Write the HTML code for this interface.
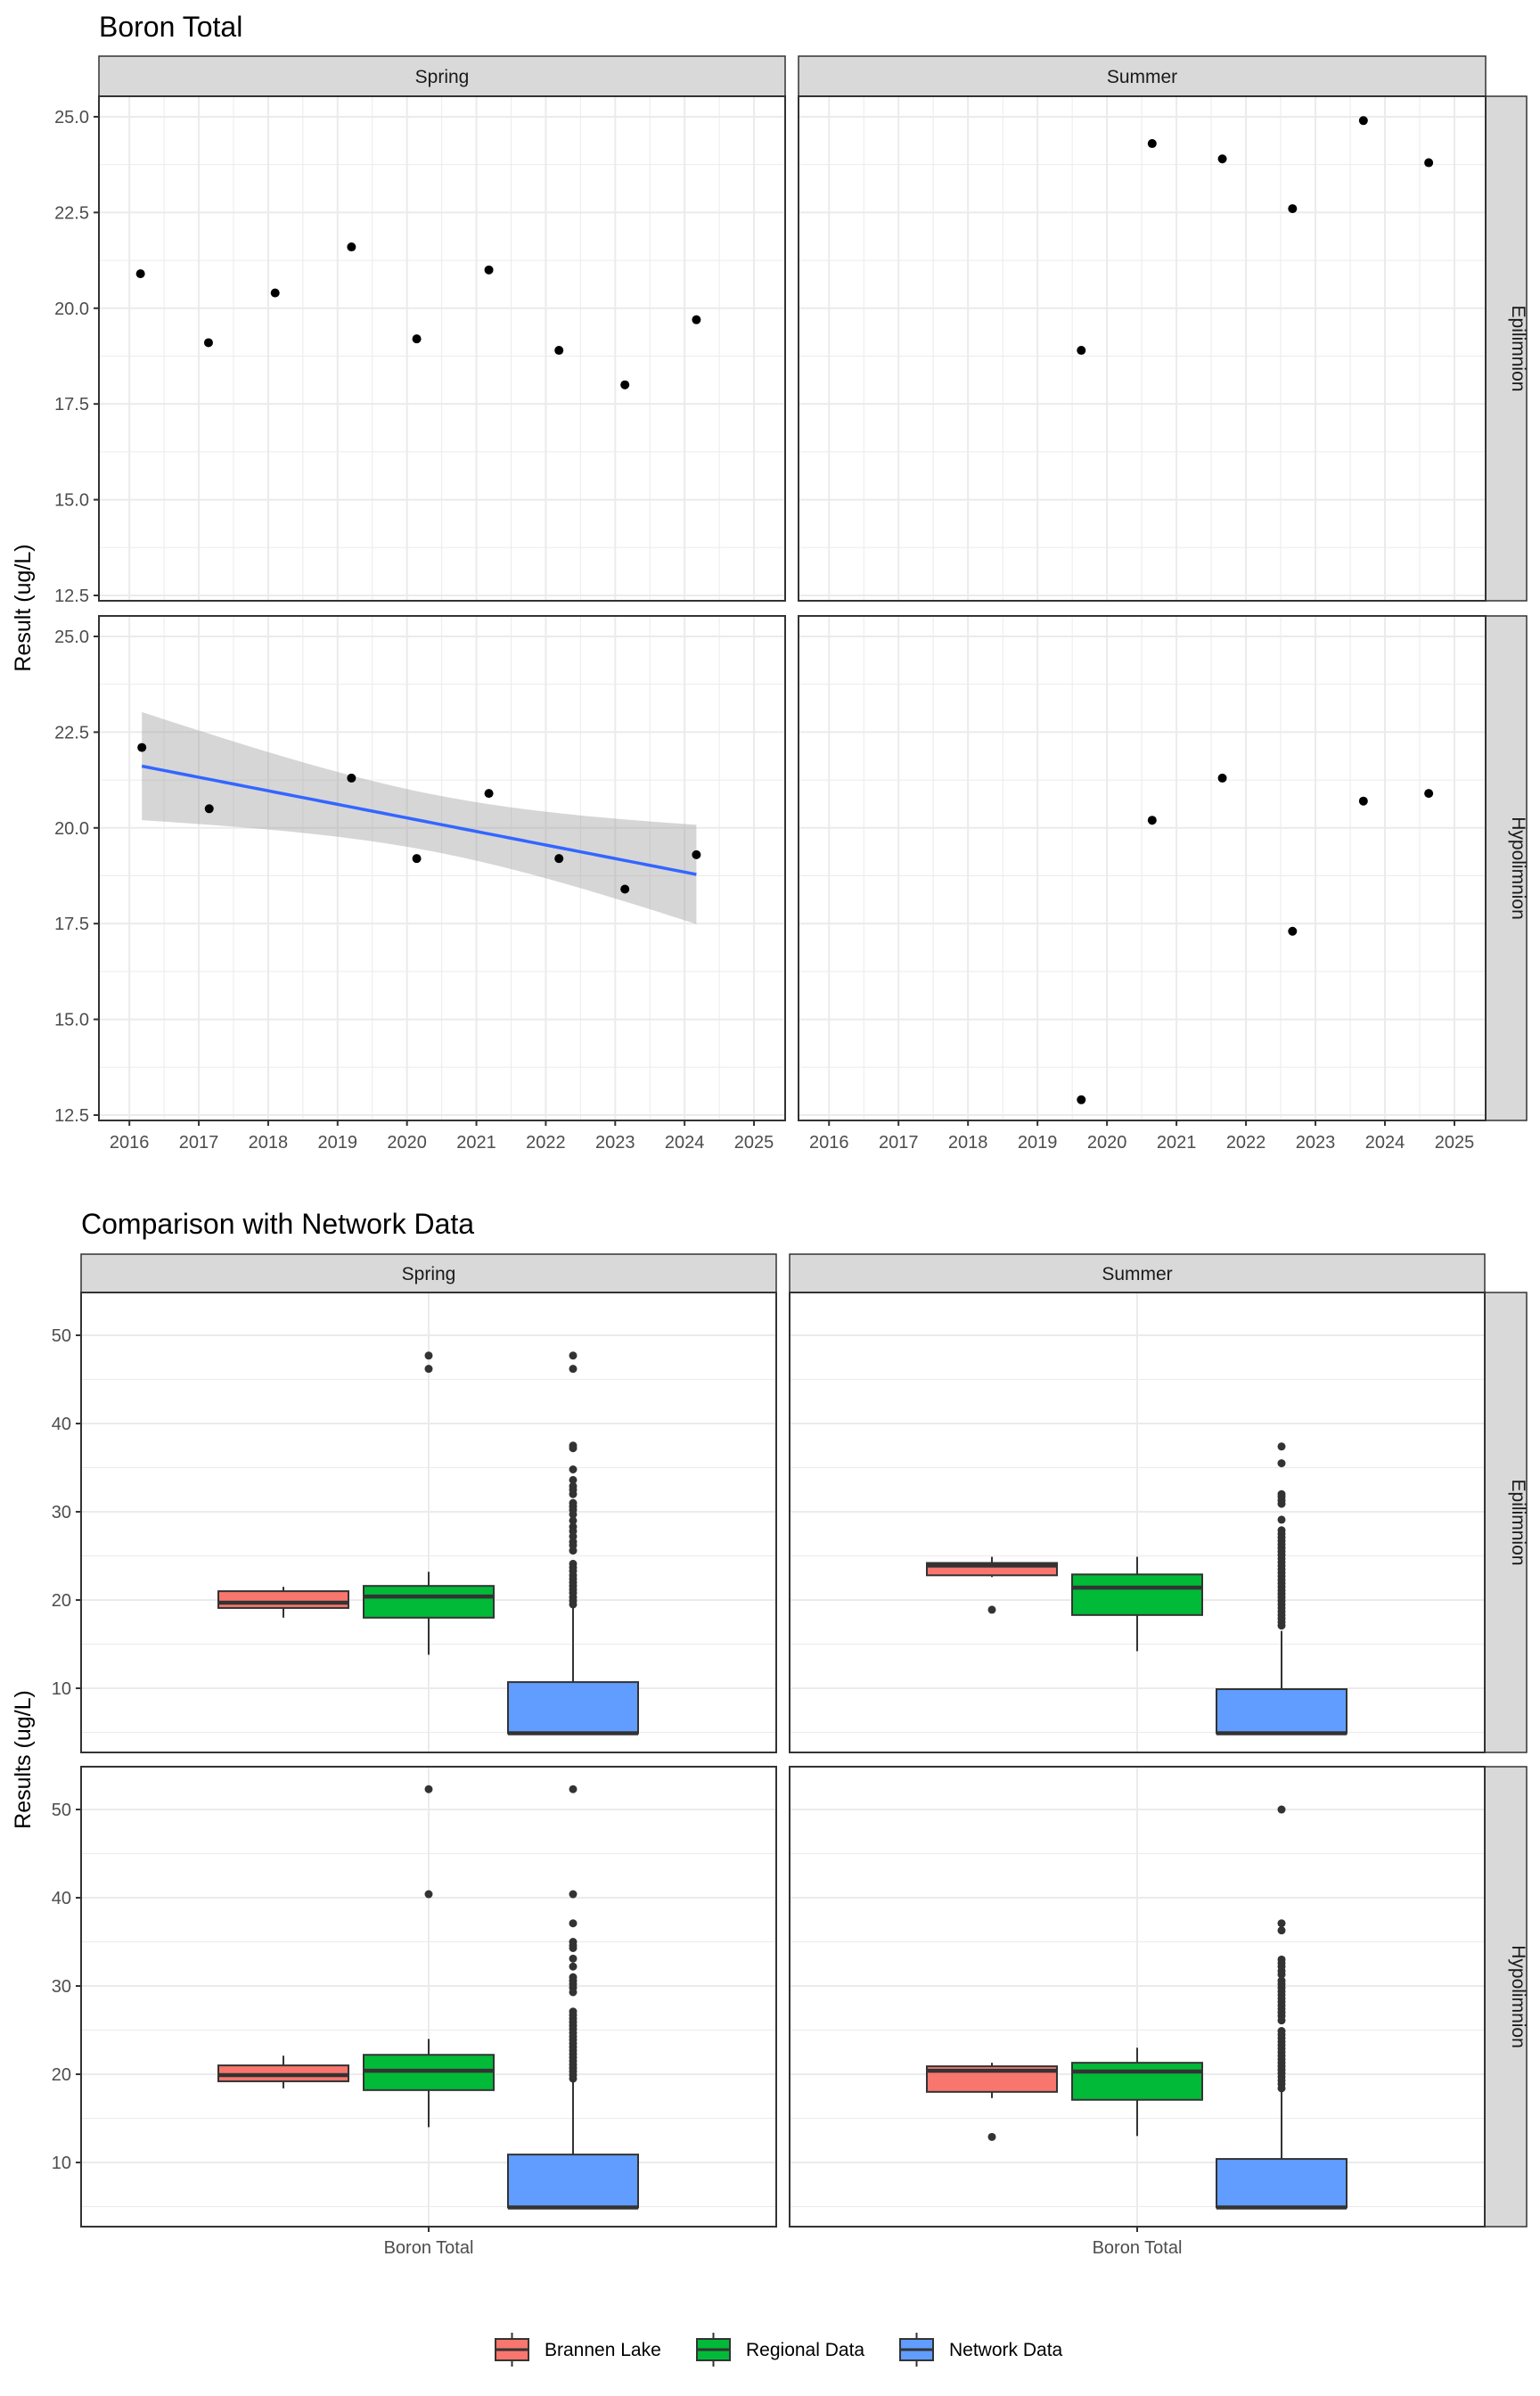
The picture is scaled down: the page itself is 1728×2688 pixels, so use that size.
<!DOCTYPE html>
<html><head><meta charset="utf-8"><title>Boron Total</title>
<style>html,body{margin:0;padding:0;background:#fff}svg{display:block;font-family:"Liberation Sans",Arial,sans-serif}</style>
</head><body>
<svg id="chart" xmlns="http://www.w3.org/2000/svg" width="1728" height="2688" viewBox="0 0 1728 2688"></svg>
<script>
// ---------- Top chart data (Boron Total scatter) ----------
const yearTicks = [2016,2017,2018,2019,2020,2021,2022,2023,2024,2025];
const topYTicks = [12.5,15.0,17.5,20.0,22.5,25.0];
const seasons = ["Spring","Summer"];
const depths = ["Epilimnion","Hypolimnion"];
const springEpiX = [2016.16,2017.14,2018.1,2019.2,2020.14,2021.18,2022.19,2023.14,2024.17];
const springEpiY = [20.9,19.1,20.4,21.6,19.2,21.0,18.9,18.0,19.7];
const summerEpiX = [2019.63,2020.65,2021.66,2022.67,2023.69,2024.63];
const summerEpiY = [18.9,24.3,23.9,22.6,24.9,23.8];
const springHypX = [2016.18,2017.15,2019.2,2020.14,2021.18,2022.19,2023.14,2024.17];
const springHypY = [22.1,20.5,21.3,19.2,20.9,19.2,18.4,19.3];
const summerHypX = [2019.63,2020.65,2021.66,2022.67,2023.69,2024.63];
const summerHypY = [12.9,20.2,21.3,17.3,20.7,20.9];

// ---------- Bottom chart data (boxplots) ----------
const groups = ["Brannen Lake","Regional Data","Network Data"];
const boxYTicks = [10,20,30,40,50];
// [lower whisker, q1, median, q3, upper whisker]
const springEpiBoxes = [[18.0,19.1,19.7,21.0,21.5],[13.8,18.0,20.4,21.6,23.2],[4.9,4.9,4.9,10.7,19.4]];
const summerEpiBoxes = [[22.6,22.8,23.9,24.2,24.9],[14.2,18.3,21.4,22.9,24.9],[4.9,4.9,4.9,9.9,16.5]];
const springHypBoxes = [[18.4,19.2,19.9,21.0,22.1],[14.0,18.2,20.4,22.2,24.0],[4.9,4.9,4.9,10.9,19.4]];
const summerHypBoxes = [[17.3,18.0,20.4,20.9,21.3],[13.0,17.1,20.3,21.3,23.0],[4.9,4.9,4.9,10.4,18.2]];
const springEpiOut = [[],[47.7,46.2],[47.7,46.2,37.5,37.2,34.8,33.6,32.9,32.5,32.0,31.0,30.6,30.2,29.7,29.0,28.3,27.8,27.2,26.6,26.2,25.6,24.1,23.7,23.3,22.8,22.4,22.0,21.6,21.2,20.8,20.3,19.9,19.5]];
const summerEpiOut = [[18.9],[],[37.4,35.5,32.0,31.7,31.3,30.9,29.1,27.9,27.5,27.1,26.7,26.3,25.9,25.5,25.1,24.7,24.3,23.9,23.5,23.1,22.7,22.3,21.9,21.5,21.1,20.7,20.3,19.9,19.5,19.1,18.7,18.3,17.9,17.5,17.1]];
const springHypOut = [[],[52.3,40.4],[52.3,40.4,37.1,35.0,34.6,34.3,33.1,32.2,31.0,30.6,30.2,29.8,29.3,27.1,26.7,26.3,25.9,25.5,25.1,24.7,24.3,23.9,23.5,23.1,22.7,22.3,21.9,21.5,21.1,20.7,20.3,19.9,19.5]];
const summerHypOut = [[12.9],[],[50.0,37.1,36.3,33.0,32.6,32.2,31.7,31.3,30.6,30.2,29.8,29.4,29.0,28.6,28.2,27.8,27.4,27.0,26.6,26.1,24.9,24.5,24.1,23.7,23.3,22.9,22.5,22.1,21.7,21.3,20.9,20.5,20.1,19.7,19.3,18.9,18.4]];
const groupColors = ["#F8766D","#00BA38","#619CFF"];

const NS="http://www.w3.org/2000/svg";
const svg=document.getElementById("chart");
function mk(tag, attrs, parent){const e=document.createElementNS(NS,tag);for(const k in attrs)e.setAttribute(k,attrs[k]);(parent||svg).appendChild(e);return e;}
function txt(s, attrs){const e=mk("text",attrs);e.textContent=s;return e;}

// ================= TOP CHART =================
const tCols=[{x0:111,x1:881},{x0:896,x1:1667}];
const tRows=[{y0:108,y1:674},{y0:691,y1:1257}];
const tXDom=[2015.561,2025.449], tYDom=[12.36,25.535];
function tx(c,v){return c.x0+(v-tXDom[0])/(tXDom[1]-tXDom[0])*(c.x1-c.x0);}
function ty(r,v){return r.y1-(v-tYDom[0])/(tYDom[1]-tYDom[0])*(r.y1-r.y0);}

let t=txt("Boron Total",{x:111,y:41,"font-size":32,fill:"#000"});



const topSeries=[[ [springEpiX,springEpiY],[summerEpiX,summerEpiY] ],[ [springHypX,springHypY],[summerHypX,summerHypY] ]];

for(let ci=0;ci<2;ci++){
  const c=tCols[ci];
  let s=mk("rect",{x:c.x0,y:63,width:c.x1-c.x0,height:45,fill:"#D9D9D9",stroke:"#333",  "stroke-width":1.5});
  
  
  let st=txt(seasons[ci],{x:(c.x0+c.x1)/2,y:93,"font-size":21,fill:"#1A1A1A","text-anchor":"middle"});
  
  
}
for(let ri=0;ri<2;ri++){
  const r=tRows[ri];
  let s=mk("rect",{x:1667,y:r.y0,width:46,height:r.y1-r.y0,fill:"#D9D9D9",stroke:"#333","stroke-width":1.5});
  
  
  const cy=(r.y0+r.y1)/2;
  let st=txt(depths[ri],{x:1690,y:cy,"font-size":21,fill:"#1A1A1A","text-anchor":"middle",transform:"rotate(90 1690 "+cy+")","dy":"-7"});
  
  
}

for(let ri=0;ri<2;ri++){
  const r=tRows[ri];
  for(let ci=0;ci<2;ci++){
    const c=tCols[ci];
    let bg=mk("rect",{x:c.x0,y:r.y0,width:c.x1-c.x0,height:r.y1-r.y0,fill:"#fff"});
    
    
    // minor grid
    for(let i=0;i<yearTicks.length;i++){const v=yearTicks[i]+0.5;if(v>tXDom[0]&&v<tXDom[1]){let g=mk("line",{x1:tx(c,v),x2:tx(c,v),y1:r.y0,y2:r.y1,stroke:"#EBEBEB","stroke-width":1});}}
    for(let i=0;i<topYTicks.length;i++){const v=topYTicks[i]+1.25;if(v<tYDom[1]){let g=mk("line",{x1:c.x0,x2:c.x1,y1:ty(r,v),y2:ty(r,v),stroke:"#EBEBEB","stroke-width":1});}}
    for(const v of yearTicks){let g=mk("line",{x1:tx(c,v),x2:tx(c,v),y1:r.y0,y2:r.y1,stroke:"#EBEBEB","stroke-width":2});}
    for(const v of topYTicks){let g=mk("line",{x1:c.x0,x2:c.x1,y1:ty(r,v),y2:ty(r,v),stroke:"#EBEBEB","stroke-width":2});}
    // regression for spring hypolimnion
    if(ri===1&&ci===0){
      const xs=springHypX, ys=springHypY, n=xs.length;
      const mx=xs.reduce((a,b)=>a+b,0)/n, my=ys.reduce((a,b)=>a+b,0)/n;
      let sxx=0,sxy=0;for(let i=0;i<n;i++){sxx+=(xs[i]-mx)**2;sxy+=(xs[i]-mx)*(ys[i]-my);}
      const b=sxy/sxx,a=my-b*mx;
      let sse=0;for(let i=0;i<n;i++){sse+=(ys[i]-a-b*xs[i])**2;}
      const se=Math.sqrt(sse/(n-2)), tq=2.4469;
      const xmin=Math.min(...xs), xmax=Math.max(...xs);
      const up=[],lo=[],ln=[];
      for(let k=0;k<=80;k++){const x=xmin+(xmax-xmin)*k/80;const f=a+b*x;const h=tq*se*Math.sqrt(1/n+(x-mx)**2/sxx);
        up.push(tx(c,x)+","+ty(r,f+h));lo.unshift(tx(c,x)+","+ty(r,f-h));ln.push(tx(c,x)+","+ty(r,f));}
      let rib=mk("polygon",{points:up.concat(lo).join(" "),fill:"#999999","fill-opacity":0.4});
      
      
      let tl=mk("polyline",{points:ln.join(" "),fill:"none",stroke:"#3366FF","stroke-width":3.5});
      
      
    }
    const ser=topSeries[ri][ci];
    for(let i=0;i<ser[0].length;i++){
      let p=mk("circle",{cx:tx(c,ser[0][i]),cy:ty(r,ser[1][i]),r:5,fill:"#000"});
      
      
    }
    let bd=mk("rect",{x:c.x0,y:r.y0,width:c.x1-c.x0,height:r.y1-r.y0,fill:"none",stroke:"#333","stroke-width":2});
    
    
  }
  // y ticks
  for(const v of topYTicks){
    const y=ty(r,v);
    let tk=mk("line",{x1:105,x2:111,y1:y,y2:y,stroke:"#333","stroke-width":2});
    
    
    let tl=txt(v.toFixed(1),{x:100,y:y+7,"font-size":20,fill:"#4D4D4D","text-anchor":"end"});
    
    
  }
}
for(let ci=0;ci<2;ci++){const c=tCols[ci];
  for(const v of yearTicks){const x=tx(c,v);
    let tk=mk("line",{x1:x,x2:x,y1:1257,y2:1263,stroke:"#333","stroke-width":2});
    
    
    let tl=txt(String(v),{x:x,y:1288,"font-size":20,fill:"#4D4D4D","text-anchor":"middle"});
    
    
  }}
let yt=txt("Result (ug/L)",{x:34,y:682,"font-size":25,fill:"#000","text-anchor":"middle",transform:"rotate(-90 34 682)"});



// ================= BOTTOM CHART =================
const bCols=[{x0:91,x1:871},{x0:886,x1:1666}];
const bRows=[{y0:1450,y1:1966},{y0:1982,y1:2498}];
const bYDom=[2.73,54.85];
const grpOffset=[-163,0,162], halfW=73;
function by(r,v){return r.y1-(v-bYDom[0])/(bYDom[1]-bYDom[0])*(r.y1-r.y0);}
const boxData=[[springEpiBoxes,summerEpiBoxes],[springHypBoxes,summerHypBoxes]];
const outData=[[springEpiOut,summerEpiOut],[springHypOut,summerHypOut]];

let bt=txt("Comparison with Network Data",{x:91,y:1384,"font-size":32,fill:"#000"});



for(let ci=0;ci<2;ci++){const c=bCols[ci];
  let s=mk("rect",{x:c.x0,y:1407,width:c.x1-c.x0,height:43,fill:"#D9D9D9",stroke:"#333","stroke-width":1.5});
  
  
  let st=txt(seasons[ci],{x:(c.x0+c.x1)/2,y:1436,"font-size":21,fill:"#1A1A1A","text-anchor":"middle"});
  
  
}
for(let ri=0;ri<2;ri++){const r=bRows[ri];
  let s=mk("rect",{x:1666,y:r.y0,width:47,height:r.y1-r.y0,fill:"#D9D9D9",stroke:"#333","stroke-width":1.5});
  
  
  const cy=(r.y0+r.y1)/2;
  let st=txt(depths[ri],{x:1690,y:cy,"font-size":21,fill:"#1A1A1A","text-anchor":"middle",transform:"rotate(90 1690 "+cy+")","dy":"-7"});
  
  
}
for(let ri=0;ri<2;ri++){const r=bRows[ri];
  for(let ci=0;ci<2;ci++){const c=bCols[ci];const cx=(c.x0+c.x1)/2;
    let bg=mk("rect",{x:c.x0,y:r.y0,width:c.x1-c.x0,height:r.y1-r.y0,fill:"#fff"});
    
    
    for(const v of boxYTicks){const m=v-5;if(m>bYDom[0]){let g=mk("line",{x1:c.x0,x2:c.x1,y1:by(r,m),y2:by(r,m),stroke:"#EBEBEB","stroke-width":1});}}
    let g2=mk("line",{x1:c.x0,x2:c.x1,y1:by(r,45),y2:by(r,45),stroke:"#EBEBEB","stroke-width":1});
    
    
    for(const v of boxYTicks){let g=mk("line",{x1:c.x0,x2:c.x1,y1:by(r,v),y2:by(r,v),stroke:"#EBEBEB","stroke-width":2});}
    let gx=mk("line",{x1:cx,x2:cx,y1:r.y0,y2:r.y1,stroke:"#EBEBEB","stroke-width":2});
    
    
    const bx=boxData[ri][ci], ou=outData[ri][ci];
    for(let gi=0;gi<3;gi++){const gcx=cx+grpOffset[gi];const d=bx[gi];
      let w1=mk("line",{x1:gcx,x2:gcx,y1:by(r,d[4]),y2:by(r,d[3]),stroke:"#333","stroke-width":2});
      
      
      let w2=mk("line",{x1:gcx,x2:gcx,y1:by(r,d[1]),y2:by(r,d[0]),stroke:"#333","stroke-width":2});
      
      
      let b=mk("rect",{x:gcx-halfW,y:by(r,d[3]),width:2*halfW,height:Math.max(1,by(r,d[1])-by(r,d[3])),fill:groupColors[gi],stroke:"#333","stroke-width":2});
      
      
      let md=mk("line",{x1:gcx-halfW,x2:gcx+halfW,y1:by(r,d[2]),y2:by(r,d[2]),stroke:"#333","stroke-width":4.5});
      
      
      for(const v of ou[gi]){
        let o=mk("circle",{cx:gcx,cy:by(r,v),r:4.5,fill:"#333"});
        
        
      }
    }
    let bd=mk("rect",{x:c.x0,y:r.y0,width:c.x1-c.x0,height:r.y1-r.y0,fill:"none",stroke:"#333","stroke-width":2});
    
    
  }
  for(const v of boxYTicks){const y=by(r,v);
    let tk=mk("line",{x1:85,x2:91,y1:y,y2:y,stroke:"#333","stroke-width":2});
    
    
    let tl=txt(String(v),{x:80,y:y+7,"font-size":20,fill:"#4D4D4D","text-anchor":"end"});
    
    
  }
}
for(let ci=0;ci<2;ci++){const c=bCols[ci];const cx=(c.x0+c.x1)/2;
  let tk=mk("line",{x1:cx,x2:cx,y1:2498,y2:2504,stroke:"#333","stroke-width":2});
  
  
  let tl=txt("Boron Total",{x:cx,y:2528,"font-size":20,fill:"#4D4D4D","text-anchor":"middle"});
  
  
}
let yt2=txt("Results (ug/L)",{x:34,y:1974,"font-size":25,fill:"#000","text-anchor":"middle",transform:"rotate(-90 34 1974)"});



// legend
const legKeyX=[556,782,1010], legTextX=[611,837,1065];
for(let gi=0;gi<3;gi++){const kx=legKeyX[gi], mid=kx+18.5;
  let l1=mk("line",{x1:mid,x2:mid,y1:2617,y2:2655,stroke:"#333","stroke-width":2});
  
  
  let k=mk("rect",{x:kx,y:2624,width:37,height:24,fill:groupColors[gi],stroke:"#333","stroke-width":2});
  
  
  let m=mk("line",{x1:kx,x2:kx+37,y1:2636,y2:2636,stroke:"#333","stroke-width":3});
  
  
  let lt=txt(groups[gi],{x:legTextX[gi],y:2643,"font-size":21,fill:"#000"});
  
  
}
</script>
</body></html>
